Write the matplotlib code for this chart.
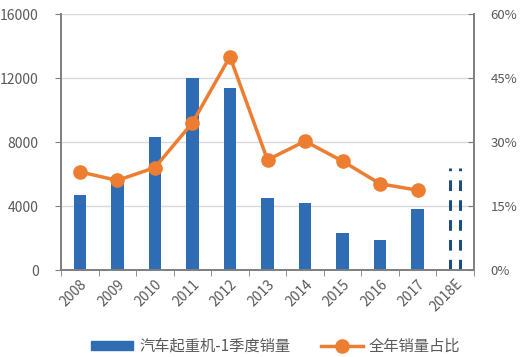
import numpy as np
import matplotlib.pyplot as plt
from matplotlib.lines import Line2D
from matplotlib.patches import Patch

plt.rcParams['font.family'] = ['Noto Sans CJK SC', 'DejaVu Sans']

years = ["2008", "2009", "2010", "2011", "2012", "2013", "2014", "2015", "2016", "2017", "2018E"]
q1_sales = [4700, 5500, 8300, 12000, 11400, 4500, 4200, 2300, 1900, 3800]
est_2018 = 6400
share = [23.0, 21.0, 24.0, 34.5, 50.0, 25.8, 30.2, 25.5, 20.2, 18.7]

blue = "#2E6DB4"
dark_blue = "#1F4E79"
orange = "#ED7D31"
gray = "#7F7F7F"
txt = "#595959"

fig = plt.figure(figsize=(5.2, 3.57), dpi=100)
ax = fig.add_axes([61 / 520, 1 - 270 / 357, 413 / 520, 256 / 357])
ax2 = ax.twinx()

bw = 0.33
x = np.arange(len(years))
ax.bar(x[:len(q1_sales)], q1_sales, width=bw, color=blue, zorder=2)
# 2018E estimate: only the two dashed sides are drawn
ax.vlines([x[-1] - bw / 2 + 0.03, x[-1] + bw / 2 - 0.03], 0, est_2018, colors=dark_blue,
          linestyles=(0, (3.5, 3)), linewidth=2.2, zorder=2)

ax2.plot(x[:len(share)], share, color=orange, linewidth=2.5, marker="o",
         markersize=9.5, zorder=3)

ax.set_xlim(-0.5, len(years) - 0.5)
ax.set_ylim(0, 16000)
ax.set_yticks([0, 4000, 8000, 12000, 16000])
ax2.set_ylim(0, 60)
ax2.set_yticks([0, 15, 30, 45, 60])
ax2.set_yticklabels(["0%", "15%", "30%", "45%", "60%"])

ax.grid(axis="y", color="#D9D9D9", linewidth=1, zorder=0)
ax.set_axisbelow(True)

ax.set_xticks(x)
ax.set_xticklabels(years, rotation=45, ha="right", va="top", rotation_mode="anchor")
ax.set_xticks(np.arange(-0.5, len(years), 1), minor=True)
ax.tick_params(axis="x", which="major", length=0, pad=5, colors=txt, labelsize=10)
ax.tick_params(axis="x", which="minor", length=4, color=gray)
ax.tick_params(axis="y", length=4, color=gray, colors=txt, labelsize=10, pad=12)
ax2.tick_params(axis="y", direction="in", length=4, color=gray, colors=txt, labelsize=9.5, pad=12)

for a in (ax, ax2):
    a.spines["top"].set_visible(False)
    for s in ("left", "right", "bottom"):
        a.spines[s].set_color(gray)
        a.spines[s].set_linewidth(1.2)

handles = [Patch(facecolor=blue, edgecolor=blue),
           Line2D([0], [0], color=orange, linewidth=2.5, marker="o", markersize=9.5)]
labels = ["汽车起重机-1季度销量", "全年销量占比"]
leg = fig.legend(handles, labels, loc="center", bbox_to_anchor=(0.53, 0.03), ncol=2,
                 frameon=False, fontsize=11, handlelength=2.75, columnspacing=2,
                 handleheight=0.6, handletextpad=0.4)
for t in leg.get_texts():
    t.set_color(txt)

fig.savefig("out.png", dpi=100)
